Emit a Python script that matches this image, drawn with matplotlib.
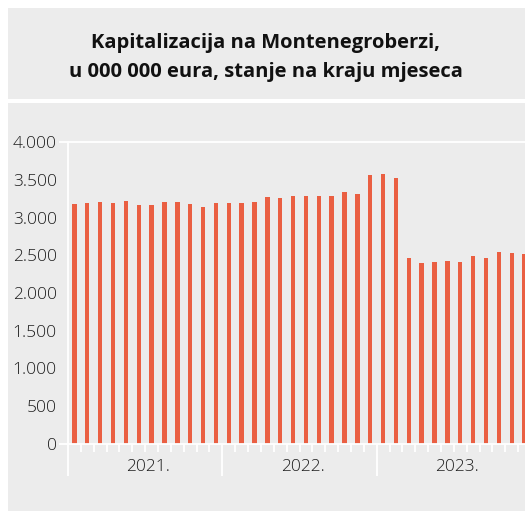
import matplotlib
matplotlib.use("Agg")
import matplotlib.pyplot as plt
from matplotlib.patches import Rectangle

# Kapitalizacija Montenegroberze, mjesečno, 2021-2023 (mil. eura)
cap_2021 = [3179, 3188, 3201, 3188, 3223, 3161, 3170, 3201, 3205, 3179, 3139, 3192]
cap_2022 = [3196, 3196, 3205, 3271, 3263, 3280, 3285, 3280, 3280, 3333, 3311, 3559]
cap_2023 = [3572, 3527, 2459, 2397, 2411, 2424, 2415, 2494, 2464, 2543, 2525, 2521]
years = ["2021.", "2022.", "2023."]
yticks = [0, 500, 1000, 1500, 2000, 2500, 3000, 3500, 4000]

values = cap_2021 + cap_2022 + cap_2023

BAR = "#EA5F42"
BG = "#ECECEC"
TXT = "#1e1e1e"
W, H = 525, 511

plt.rcParams["font.family"] = ["Open Sans", "DejaVu Sans"]

fig = plt.figure(figsize=(W / 100, H / 100), dpi=100, facecolor="white")


def box(x0, y0, x1, y1):
    # pikseli od gornjeg lijevog ugla -> koordinate figure
    fig.patches.append(Rectangle((x0 / W, 1 - y1 / H), (x1 - x0) / W, (y1 - y0) / H,
                                 transform=fig.transFigure, facecolor=BG,
                                 edgecolor="none", zorder=-5))


box(8, 8, 525, 99)
box(8, 103, 525, 511)

fig.text(265.5 / W, 1 - 47.7 / H, "Kapitalizacija na Montenegroberzi,", ha="center",
         va="baseline", fontsize=14.5, fontweight="bold", color="#111111")
fig.text(265.5 / W, 1 - 76.7 / H, "u 000 000 eura, stanje na kraju mjeseca", ha="center",
         va="baseline", fontsize=14.5, fontweight="bold", color="#111111")

# osa: x od 68 px do ~531 px, y od 444 (0) do 142 (4000)
ax = fig.add_axes([68 / W, 1 - 444 / H, 463 / W, 302 / H])
ax.set_facecolor("none")

n = len(values)
xs = [i + 0.5 for i in range(n)]
ax.bar(xs, values, width=0.34, color=BAR, zorder=2)

ax.set_xlim(0, n)
ax.set_ylim(0, 4000)

for s in ["top", "right", "bottom"]:
    ax.spines[s].set_visible(False)
ax.spines["left"].set_color("white")
ax.spines["left"].set_linewidth(1.3)

# bijele linije na 0 i 4000, malo izlaze lijevo od ose
for yv in (0, 4000):
    ax.plot([-0.62, n], [yv, yv], color="white", lw=1.3, clip_on=False, zorder=3)

ax.set_yticks(yticks)
ax.set_yticklabels([f"{v:,}".replace(",", ".") for v in yticks])
ax.tick_params(axis="y", length=0, pad=8, labelsize=12.5, labelcolor=TXT)
for lab in ax.get_yticklabels():
    lab.set_fontweight("light")

ax.set_xticks([0, 12, 24, 36])
ax.set_xticks(range(n + 1), minor=True)
ax.set_xticklabels([])
ax.tick_params(axis="x", which="major", length=23, width=1.3, color="white", direction="out")
ax.tick_params(axis="x", which="minor", length=5.8, width=1.3, color="white", direction="out")

for k, y in enumerate(years):
    ax.text(12 * k + 6.25, -0.076, y, transform=ax.get_xaxis_transform(), ha="center",
            va="center", fontsize=12.5, fontweight="light", color=TXT)

fig.savefig("out.png", dpi=100, facecolor="white")
